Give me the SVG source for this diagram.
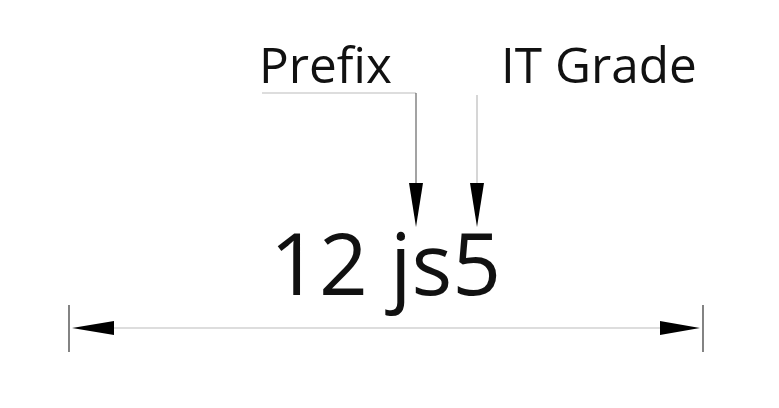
<svg xmlns="http://www.w3.org/2000/svg" width="779" height="408" viewBox="0 0 779 408">
<style>
.lbl{font-family:"Open Sans","Noto Sans",sans-serif;font-size:49.5px;fill:#111}
.main{font-family:"Open Sans","Noto Sans",sans-serif;font-size:85.5px;fill:#111}
.lead{fill:none;stroke:#bbb;stroke-width:1.2}
.lead2{fill:none;stroke:#666;stroke-width:1.2}
.tick{stroke:#777;stroke-width:1.8}
.ah{fill:#000}
</style>
<rect width="779" height="408" fill="#fff"/>
<g id="prefix"><text class="lbl" x="259" y="83">Prefix</text></g>
<g id="itgrade"><text class="lbl" x="501" y="83">IT Grade</text></g>
<g id="code"><text class="main" x="270" y="295">12 js5</text></g>
<g id="connectors">
<path class="lead" d="M262 93H416"/>
<path class="lead2" d="M416 93V190"/>
<path class="ah" d="M409 183L423 183L416 227Z"/>
<path class="lead" d="M477 95V190"/>
<path class="ah" d="M470 183L484 183L477 227Z"/>
<path class="lead" d="M110 328H664"/>
<path class="tick" d="M69 305V352M703 305V352"/>
<path class="ah" d="M72 328L114 321L114 335Z"/>
<path class="ah" d="M700 328L660 321L660 335Z"/>
</g>
</svg>
